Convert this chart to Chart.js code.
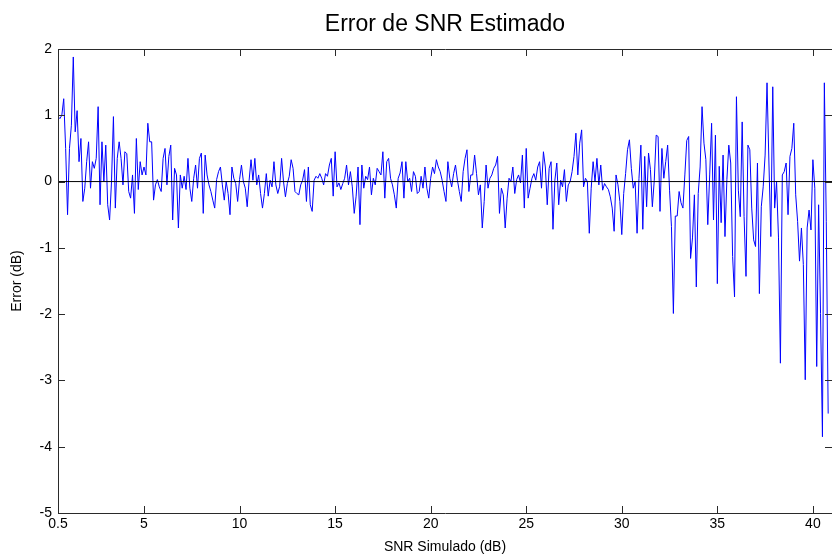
<!DOCTYPE html>
<html>
<head>
<meta charset="utf-8">
<title>Error de SNR Estimado</title>
<script src="https://cdn.jsdelivr.net/npm/chart.js@4"></script>
<style>
  html, body { margin: 0; padding: 0; background: #fff; }
  #wrap { width: 832px; height: 557px; }
</style>
</head>
<body>
<div id="wrap"><canvas id="snrChart" width="832" height="557"></canvas></div>
<script>
/* ─── Data ───────────────────────────────────────────────────── */
const CHART_TITLE = 'Error de SNR Estimado';
const X_LABEL     = 'SNR Simulado (dB)';
const Y_LABEL     = 'Error (dB)';

const SNR_START = 0.5;   // dB, first simulated SNR
const SNR_STEP  = 0.1;   // dB between simulations
const X_TICKS   = [0.5, 5, 10, 15, 20, 25, 30, 35, 40];
const Y_TICKS   = [-5, -4, -3, -2, -1, 0, 1, 2];

// estimated error (dB) left to right
const errorDb = [
  // 0.5 – 3.9
  0.98, 0.95, 1.0, 1.25, 0.5, -0.5, 0.5, 0.85, 1.88, 0.75, 1.07, 0.3, 0.65, -0.3, -0.1, 0.3, 0.6, -0.1,
  0.3, 0.2, 0.35, 1.13, -0.35, 0.6, 0.0, 0.55, -0.35, -0.58, 0.0, 0.98, -0.4, 0.35, 0.6, 0.35, -0.05,
  // 4.0 – 7.4
  0.45, 0.42, -0.15, -0.25, 0.1, -0.48, 0.65, -0.12, 0.3, 0.1, 0.22, 0.1, 0.88, 0.6, 0.6, -0.28, -0.05, 0.03,
  -0.08, -0.15, 0.35, 0.5, -0.05, 0.38, 0.55, -0.58, 0.2, 0.1, -0.7, 0.1, -0.1, 0.08, -0.12, 0.35, -0.1,
  // 7.5 – 10.7
  -0.3, 0.05, 0.25, -0.1, 0.35, 0.43, -0.48, 0.4, 0.1, -0.05, -0.15, -0.28, -0.4, 0.03, 0.15, 0.22, -0.05,
  -0.28, 0.0, -0.18, -0.5, 0.22, 0.05, -0.03, -0.3, 0.03, 0.25, 0.0, -0.1, -0.38, 0.02, 0.33, 0.02,
  // 10.8 – 14.1
  0.35, -0.05, 0.1, -0.18, -0.4, -0.18, 0.12, -0.22, 0.02, -0.08, 0.3, -0.05, -0.18, -0.07, 0.35, 0.0, -0.23,
  -0.03, 0.08, 0.33, 0.2, -0.15, -0.18, -0.2, -0.05, 0.02, 0.18, -0.3, 0.22, -0.35, -0.45, 0.02, 0.08, 0.05,
  // 14.2 – 17.5
  0.12, 0.05, -0.05, 0.12, 0.08, 0.25, 0.35, -0.22, 0.45, -0.08, -0.02, -0.12, -0.03, 0.05, 0.25, -0.05, 0.15,
  -0.08, -0.48, -0.22, 0.22, -0.65, 0.25, -0.1, 0.08, 0.03, 0.22, -0.2, 0.05, -0.05, 0.2, 0.15, 0.1, 0.45,
  // 17.6 – 20.9
  -0.25, 0.3, 0.35, 0.05, -0.05, -0.2, -0.4, 0.05, 0.13, 0.3, -0.25, 0.3, 0.0, 0.05, -0.15, 0.15, 0.08,
  -0.18, -0.15, 0.08, -0.1, 0.22, -0.1, -0.25, 0.05, 0.22, 0.12, 0.33, 0.22, 0.15, 0.02, -0.15, -0.3, 0.3,
  // 21.0 – 24.3
  0.05, -0.08, 0.12, 0.25, 0.02, -0.15, -0.3, 0.15, 0.35, 0.48, -0.15, 0.1, 0.1, 0.4, 0.12, -0.2, -0.05,
  -0.7, -0.3, 0.25, -0.1, 0.05, 0.1, 0.2, 0.25, 0.38, -0.48, -0.1, -0.2, -0.7, -0.25, 0.05, 0.0, 0.22,
  // 24.4 – 27.7
  -0.18, 0.03, 0.1, -0.02, 0.4, -0.4, 0.5, -0.25, -0.1, 0.05, 0.12, 0.02, 0.22, 0.3, -0.1, 0.45, 0.22,
  -0.35, 0.2, 0.3, -0.72, 0.02, 0.28, -0.35, 0.02, -0.08, 0.18, -0.3, -0.05, 0.0, 0.15, 0.38, 0.73, 0.1,
  // 27.8 – 31.1
  0.58, 0.78, -0.08, 0.05, 0.0, -0.78, -0.1, 0.3, 0.0, 0.35, -0.05, 0.25, -0.13, -0.03, -0.08, -0.12, -0.23,
  -0.4, -0.75, 0.1, -0.05, -0.3, -0.8, -0.18, 0.12, 0.48, 0.63, 0.2, -0.1, 0.0, -0.78, 0.05, 0.55, -0.72,
  // 31.2 – 34.5
  0.38, -0.38, 0.43, 0.18, -0.38, 0.02, 0.7, 0.68, -0.45, 0.5, 0.05, 0.3, 0.55, -0.13, -0.68, -1.99, -0.52,
  -0.52, -0.15, -0.32, -0.4, 0.1, 0.62, 0.68, -1.16, -0.85, -0.2, -1.59, -0.18, 0.22, 1.13, 0.58, 0.33, -0.65,
  // 34.6 – 37.9
  0.1, 0.88, -0.58, 0.7, -1.54, 0.23, -0.62, 0.4, -0.83, 0.03, 0.55, 0.28, -1.13, -1.74, 1.28, -0.13, -0.53,
  0.9, -0.53, -1.43, 0.55, 0.48, -0.4, -0.88, -0.98, 0.28, -1.69, -0.38, -0.08, 0.4, 1.49, 0.28, -0.83, 1.43,
  // 38.0 – 40.8
  -0.4, 0.0, -0.85, -2.74, 0.1, 0.15, 0.28, -0.5, 0.38, 0.5, 0.88, -0.2, -0.6, -1.2, -0.7, -1.25, -2.99,
  -0.7, -0.43, -0.73, 0.33, -0.1, -2.79, -0.35, -1.99, -3.85, 1.49, -0.6, -3.5,
];

const X_MIN = 0.5, X_MAX = 41;
const Y_MIN = -5,  Y_MAX = 2;

/* ─── Style ──────────────────────────────────────────────────── */
const FONT_FAMILY = '"Liberation Sans", Arial, Helvetica, sans-serif';
const AXIS_COLOR  = '#2a2a2a';
const TICK_LEN    = 7;

/* ─── Plugins ────────────────────────────────────────────────── */
// MATLAB-like box with inward ticks on all four sides, plus the title
const matlabAxes = {
  id: 'matlabAxes',
  afterDraw(chart) {
    const { ctx, chartArea: a, scales } = chart;
    ctx.save();
    ctx.strokeStyle = AXIS_COLOR;
    ctx.lineWidth = 1;
    ctx.beginPath();
    ctx.rect(Math.round(a.left) + 0.5, Math.round(a.top) + 0.5,
             Math.round(a.right - a.left), Math.round(a.bottom - a.top));
    X_TICKS.forEach(v => {
      const px = Math.round(scales.x.getPixelForValue(v)) + 0.5;
      ctx.moveTo(px, a.bottom); ctx.lineTo(px, a.bottom - TICK_LEN);
      ctx.moveTo(px, a.top);    ctx.lineTo(px, a.top + TICK_LEN);
    });
    Y_TICKS.forEach(v => {
      const py = Math.round(scales.y.getPixelForValue(v)) + 0.5;
      ctx.moveTo(a.left, py);  ctx.lineTo(a.left + TICK_LEN, py);
      ctx.moveTo(a.right, py); ctx.lineTo(a.right - TICK_LEN, py);
    });
    ctx.stroke();

    ctx.fillStyle = '#000';
    ctx.font = `23px ${FONT_FAMILY}`;
    ctx.textAlign = 'center';
    ctx.textBaseline = 'middle';
    ctx.fillText(CHART_TITLE, (a.left + a.right) / 2, 25);
    ctx.restore();
  },
};

/* ─── Chart ──────────────────────────────────────────────────── */
const points   = errorDb.map((e, i) => ({ x: +(SNR_START + i * SNR_STEP).toFixed(1), y: e }));
const zeroLine = [{ x: X_MIN, y: 0 }, { x: X_MAX, y: 0 }];

new Chart(document.getElementById('snrChart'), {
  type: 'line',
  data: {
    datasets: [
      { data: zeroLine, borderColor: '#000', borderWidth: 1, pointRadius: 0 },
      { data: points,   borderColor: '#0000ff', borderWidth: 1, pointRadius: 0, tension: 0 },
    ],
  },
  options: {
    responsive: false,
    animation: false,
    devicePixelRatio: 1,
    layout: { padding: { top: 49, right: -2, bottom: 0, left: 0 } },
    plugins: { legend: { display: false }, tooltip: { enabled: false } },
    scales: {
      x: {
        type: 'linear',
        min: X_MIN,
        max: X_MAX,
        afterBuildTicks: s => { s.ticks = X_TICKS.map(v => ({ value: v })); },
        afterFit: s => { s.height = 44; },
        grid: { display: false, drawTicks: false },
        border: { display: false },
        ticks: {
          color: '#000', padding: 3, maxRotation: 0, autoSkip: false,
          font: { family: FONT_FAMILY, size: 14 },
          callback: v => String(v),
        },
        title: {
          display: true, text: X_LABEL, color: '#000',
          font: { family: FONT_FAMILY, size: 14 },
          padding: { top: 0, bottom: 1 },
        },
      },
      y: {
        min: Y_MIN,
        max: Y_MAX,
        afterBuildTicks: s => { s.ticks = Y_TICKS.map(v => ({ value: v })); },
        afterFit: s => { s.width = 58; },
        grid: { display: false, drawTicks: false },
        border: { display: false },
        ticks: {
          color: '#000', padding: 6,
          font: { family: FONT_FAMILY, size: 14 },
          callback: v => String(v),
        },
        title: {
          display: true, text: Y_LABEL, color: '#000',
          font: { family: FONT_FAMILY, size: 14 },
          padding: { top: 9, bottom: 0 },
        },
      },
    },
  },
  plugins: [matlabAxes],
});
</script>
</body>
</html>
